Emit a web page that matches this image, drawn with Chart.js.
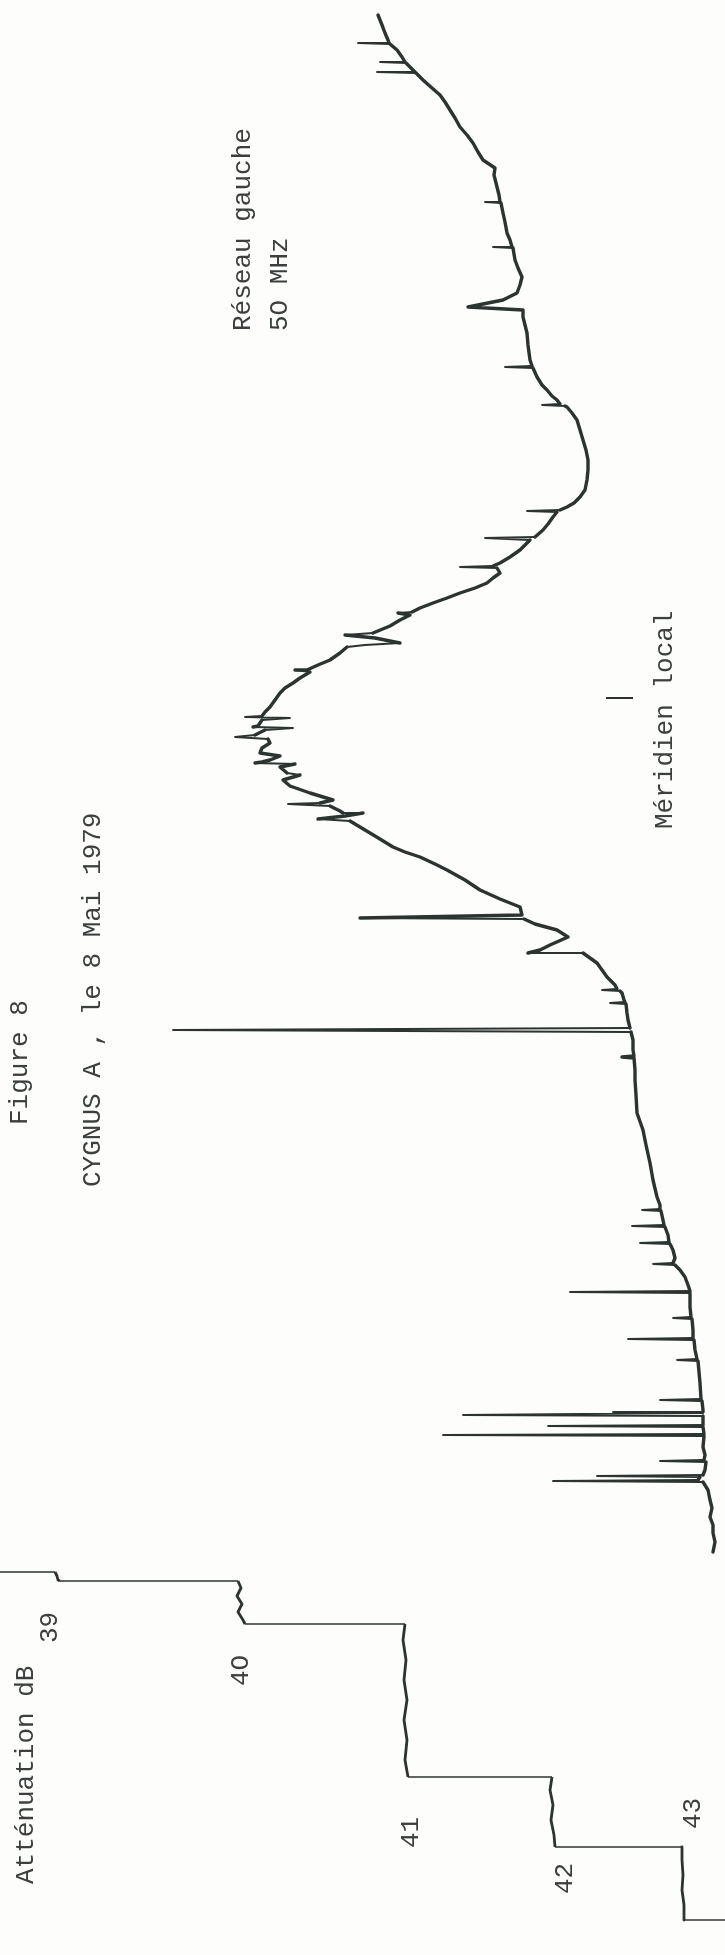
<!DOCTYPE html>
<html>
<head>
<meta charset="utf-8">
<script src="https://cdn.jsdelivr.net/npm/chart.js@4.4.1/dist/chart.umd.min.js"></script>
<style>
  html, body { margin: 0; padding: 0; background: #fdfdfc; }
  #wrap { position: relative; width: 725px; height: 1955px; overflow: hidden; }
  #chart { position: absolute; left: 0; top: 0; }
  .lbl {
    position: absolute;
    font-family: "Liberation Mono", "DejaVu Sans Mono", monospace;
    font-size: 26px;
    line-height: 26px;
    color: #3b403e;
    white-space: pre;
    transform-origin: 0 0;
    transform: rotate(-90deg);
  }
</style>
</head>
<body>
<div id="wrap">
  <canvas id="chart" width="725" height="1955"></canvas>
</div>
<script>
// enregistrement tourne de 90 degres : deviation de la plume (horizontal), temps (vertical)

// trace principale : [deviation, temps]
const trace = [
  [378,15],[382,25],[385,33],[388,40],[389,43],[358,43],[390,44],
  [397,50],[402,57],[405,62],[380,62],[406,63],
  [410,67],[415,72],[377,72],[416,73],
  [423,80],[432,88],[440,95],[445,102],[450,110],[455,118],[460,127],[467,135],[473,143],[478,152],[483,160],[495,168],[494,175],[497,187],[499,195],[500,202],[485,202],[501,203],
  [503,213],[505,222],[507,233],[510,240],[512,247],[493,247],[513,248],
  [515,260],[518,268],[522,277],[520,285],[517,293],[503,300],[468,307],[523,310],
  [523,317],[525,325],[527,333],[528,345],[530,360],[532,366],[505,367],[533,368],
  [537,377],[542,385],[547,390],[552,396],[557,400],[560,404],[542,405],[565,406],
  [567,407],[572,413],[577,420],[580,430],[583,440],[586,450],[588,460],[588,470],[587,480],[585,490],[580,497],[574,503],[567,507],[560,510],[527,511],[557,512],
  [553,517],[548,524],[543,530],[535,537],[485,538],[530,540],
  [527,543],[520,550],[510,557],[500,563],[493,566],[460,567],[497,568],
  [500,573],[493,578],[487,583],[475,588],[460,593],[447,598],[433,603],[420,608],[412,612],[398,613],[410,615],[400,620],
  [390,626],[373,633],[345,635],[375,638],[400,643],[365,645],
  [347,647],[340,653],[330,660],[318,665],[307,670],[295,670],[310,672],
  [300,678],[293,683],[285,688],[280,693],[275,700],[270,707],[265,712],
  [262,716],[245,717],[290,718],[262,720],
  [258,726],[253,727],[293,728],[265,730],
  [255,735],[235,737],[268,739],[270,743],[262,748],
  [260,753],[280,756],[270,760],
  [262,762],[255,763],[295,764],[280,767],
  [287,773],[300,775],[283,780],[290,786],[310,793],
  [333,800],[320,803],[288,804],[330,806],
  [340,811],[343,813],[363,813],[345,816],[318,819],[350,821],
  [360,827],[375,836],[393,847],[405,852],[420,857],[435,864],[447,870],[465,880],[480,890],[500,899],[520,907],[522,915],[360,918],[524,919],
  [535,924],[557,930],[568,937],[550,945],[540,950],[528,953],[583,953],
  [590,958],[597,963],[602,970],[607,977],[615,985],[617,989],[602,990],[620,991],
  [622,993],[624,1000],[625,1002],[610,1003],[626,1004],
  [627,1013],[628,1020],[630,1028],[173,1030],[631,1032],
  [633,1040],[633,1050],[634,1056],[622,1057],[634,1058],
  [635,1070],[635,1080],[636,1095],[637,1113],[643,1130],[646,1145],[650,1163],[653,1180],[657,1197],[660,1205],[660,1209],[642,1210],[661,1211],
  [663,1220],[664,1225],[632,1226],[665,1227],[668,1235],[669,1242],[640,1243],[670,1244],[673,1250],
  [675,1258],[673,1263],[653,1264],[675,1265],
  [680,1270],[685,1277],[688,1285],[690,1291],[570,1292],[690,1293],
  [690,1307],[691,1317],[673,1318],[692,1319],
  [693,1330],[693,1338],[628,1339],[694,1340],
  [695,1350],[697,1359],[677,1360],[698,1361],
  [700,1383],[701,1399],[660,1400],[702,1401],
  [703,1410],[703,1412],[613,1412],[703,1413],[463,1415],[703,1416],
  [703,1420],[703,1425],[548,1426],[703,1427],
  [704,1434],[443,1435],[704,1436],
  [703,1447],[705,1455],[704,1460],[660,1461],[706,1462],
  [705,1470],[703,1475],[597,1476],[700,1477],[698,1480],[553,1481],[703,1482],
  [708,1490],[710,1500],[712,1508],[710,1517],[713,1525],[713,1533],[715,1542],[713,1552]
];

// paliers d'etalonnage (attenuation 39 a 43 dB)
const calibration = [
  [0,1572],[55,1572],[57,1576],[58,1580],[60,1581],
  [238,1581],[241,1588],[237,1596],[242,1604],[238,1612],[243,1620],[245,1624],
  [405,1624],[403,1640],[406,1660],[404,1680],[407,1700],[404,1720],[407,1740],[405,1760],[408,1777],
  [552,1777],[550,1790],[553,1805],[551,1820],[554,1835],[555,1847],
  [682,1847],[682,1860],[683,1875],[682,1890],[684,1905],[684,1920],
  [725,1920]
];

// repere du meridien local
const meridien = [[606,698],[633,698]];

// textes : [texte, gauche, bas]
const labels = [
  ["Figure 8", 7, 1125],
  ["CYGNUS A , le 8 Mai 1979", 80, 1187],
  ["Réseau gauche", 230, 331],
  ["5O MHz", 267, 331],
  ["Méridien local", 652, 829],
  ["Atténuation dB", 13, 1884],
  ["39", 37, 1643],
  ["4O", 228, 1686],
  ["41", 398, 1848],
  ["42", 552, 1894],
  ["43", 680, 1829]
];

const ink = '#2b3430';
const toPts = arr => arr.map(p => ({x: p[0], y: p[1]}));

// les pointes et sauts (quasi horizontaux) sont traces plus fin que la plume lente
function penWidth(thin, thick) {
  return ctx => {
    const dy = Math.abs(ctx.p1.parsed.y - ctx.p0.parsed.y);
    const dx = Math.abs(ctx.p1.parsed.x - ctx.p0.parsed.x);
    return (dy <= 2 && dx > 12) ? thin : thick;
  };
}

new Chart(document.getElementById('chart'), {
  type: 'scatter',
  data: {
    datasets: [
      {data: toPts(trace), showLine: true, borderColor: ink, borderWidth: 3.2, pointRadius: 0, tension: 0,
       borderJoinStyle: 'round', borderCapStyle: 'round', segment: {borderWidth: penWidth(1.8, 3.4)}},
      {data: toPts(calibration), showLine: true, borderColor: ink, borderWidth: 2, pointRadius: 0, tension: 0,
       borderJoinStyle: 'round', segment: {borderWidth: penWidth(1.6, 2.8)}},
      {data: toPts(meridien), showLine: true, borderColor: ink, borderWidth: 2, pointRadius: 0, tension: 0}
    ]
  },
  options: {
    responsive: false,
    animation: false,
    layout: {padding: 0},
    plugins: {legend: {display: false}, tooltip: {enabled: false}},
    scales: {
      x: {type: 'linear', min: 0, max: 725, display: false},
      y: {type: 'linear', min: 0, max: 1955, reverse: true, display: false}
    }
  }
});

const wrap = document.getElementById('wrap');
labels.forEach(l => {
  const d = document.createElement('div');
  d.className = 'lbl';
  d.textContent = l[0];
  d.style.left = l[1] + 'px';
  d.style.top = l[2] + 'px';
  wrap.appendChild(d);
});
</script>
</body>
</html>
